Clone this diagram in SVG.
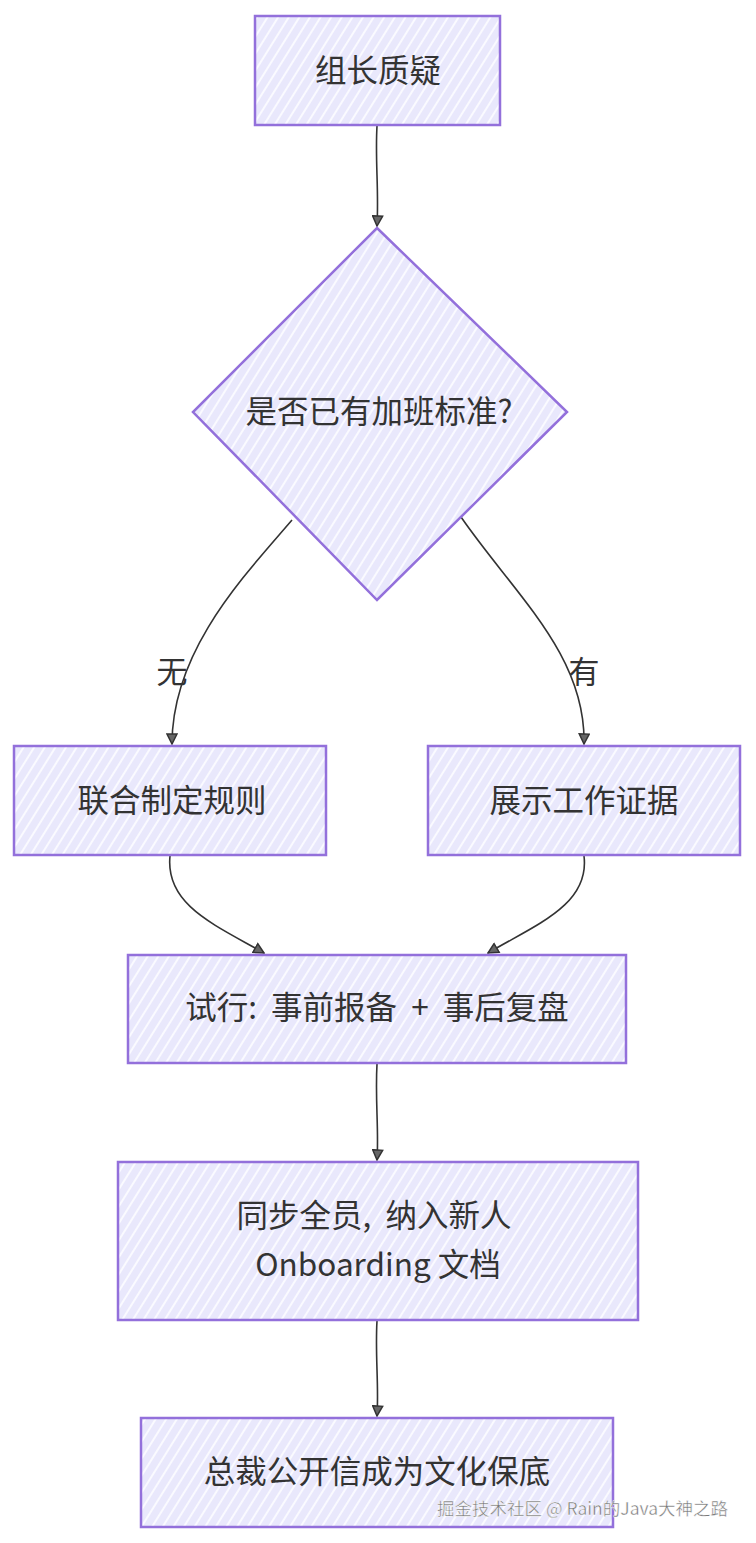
<svg xmlns="http://www.w3.org/2000/svg" width="756" height="1543" viewBox="0 0 756 1543">
<defs>
<pattern id="hatch" patternUnits="userSpaceOnUse" width="9" height="9" patternTransform="rotate(32)">
<rect width="9" height="9" fill="#E9E8FC"/>
<line x1="2" y1="0" x2="2" y2="9" stroke="#FAFAFF" stroke-width="2"/>
</pattern>
<marker id="arr" viewBox="0 0 12 12" refX="11" refY="6" markerWidth="12" markerHeight="12" markerUnits="userSpaceOnUse" orient="auto">
<path d="M1,1 L11,6 L1,11 Z" fill="#666" stroke="#333" stroke-width="1.5"/>
</marker>
<style>
.node{fill:url(#hatch);stroke:#9370DB;stroke-width:2.5}
.lbl{font-family:"Noto Sans CJK SC","Noto Sans",sans-serif;font-size:31.5px;fill:#333;text-anchor:middle;dominant-baseline:central}
.edge{fill:none;stroke:#333;stroke-width:1.6;marker-end:url(#arr)}
.elbl{font-family:"Noto Sans CJK SC","Noto Sans",sans-serif;font-size:31px;fill:#333;text-anchor:middle;dominant-baseline:central}
.wm{font-family:"Noto Sans CJK SC","Noto Sans",sans-serif;font-size:17.5px;fill:#777;stroke:#fff;stroke-width:0.4}
</style>
</defs>
<rect width="756" height="1543" fill="#fff"/>
<g id="connectors">
<path class="edge" d="M377,126 C375,160 379,190 377,226"/>
<path class="edge" d="M292,520 C245,575 172,650 172,744"/>
<path class="edge" d="M461,517 C515,595 586,655 584,744"/>
<path class="edge" d="M170,856 C165,905 215,925 264,953"/>
<path class="edge" d="M584,856 C590,905 535,925 488,953"/>
<path class="edge" d="M377,1064 C375,1100 379,1130 377,1160"/>
<path class="edge" d="M377,1321 C375,1355 379,1385 377,1416"/>
<text class="elbl" x="172" y="669">无</text>
<text class="elbl" x="584" y="669">有</text>
</g>
<g id="n1">
<rect class="node" x="255" y="16" width="245" height="109"/>
<text class="lbl" x="378" y="68">组长质疑</text>
</g>
<g id="n2">
<polygon class="node" points="377,228 567,412 377,600 193,412"/>
<text class="lbl" x="379" y="409">是否已有加班标准?</text>
</g>
<g id="n3">
<rect class="node" x="14" y="746" width="312" height="109"/>
<text class="lbl" x="172" y="798">联合制定规则</text>
</g>
<g id="n4">
<rect class="node" x="428" y="746" width="312" height="109"/>
<text class="lbl" x="584" y="798">展示工作证据</text>
</g>
<g id="n5">
<rect class="node" x="128" y="955" width="498" height="108"/>
<text class="lbl" x="377" y="1005" xml:space="preserve">试行:  事前报备  +  事后复盘</text>
</g>
<g id="n6">
<rect class="node" x="118" y="1162" width="520" height="158"/>
<text class="lbl" x="374" y="1213" xml:space="preserve">同步全员,  纳入新人</text>
<text class="lbl" x="378" y="1262">Onboarding 文档</text>
</g>
<g id="n7">
<rect class="node" x="141" y="1418" width="472" height="109"/>
<text class="lbl" x="377" y="1469">总裁公开信成为文化保底</text>
</g>
<text class="wm" x="437" y="1515">掘金技术社区 @ Rain的Java大神之路</text>
</svg>
